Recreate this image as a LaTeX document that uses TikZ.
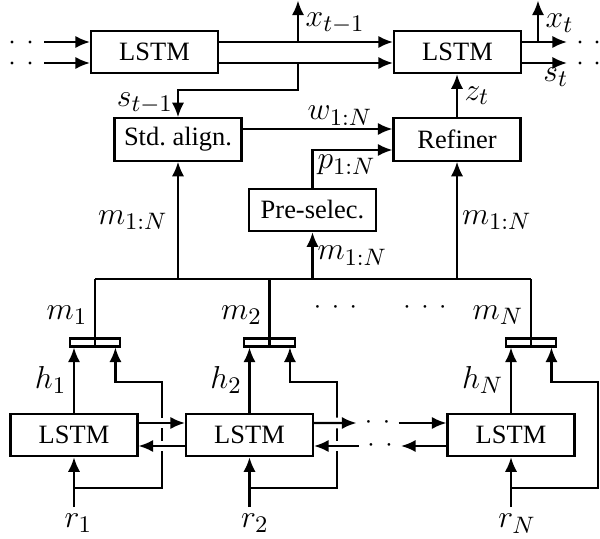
\documentclass[tikz,border=0pt]{standalone}
\usepackage[no-math]{fontspec}
\setmainfont{Liberation Serif}
\usetikzlibrary{arrows.meta,calc}

\tikzset{
  box/.style={draw, thick, minimum width=48pt, minimum height=16pt, inner sep=0pt},
  catbox/.style={draw, thick, minimum width=19.2pt, minimum height=3pt, inner sep=0pt},
  conn/.style={thick, -{Latex[length=5.5pt,width=4.6pt]}},
  wire/.style={thick},
  overgap/.style={preaction={draw=white, line width=4pt, -}},
  lab/.style={font=\fontsize{12.5}{14}\selectfont, inner sep=2.5pt},
  dots/.style={inner xsep=3pt, inner ysep=0pt},
  dotmark/.style={circle, fill, inner sep=0pt, minimum size=1.2pt},
}

\begin{document}
\begin{tikzpicture}[x=1.329mm, y=-1.329mm]
  \useasboundingbox (0,0) rectangle (60,53.9);

  % decoder part
  \node[box] (decPrev) at (15.45,5.2) {LSTM};
  \node[box] (decCur) at (45.75,5.2) {LSTM};
  \node[box] (stdAlign) at (17.8,13.95) {Std.\ align.};
  \node[box] (refiner) at (45.7,13.95) {Refiner};
  \node[box] (preSel) at (31.25,21.0) {Pre-selec.};

  % concatenation of h and r
  \node[catbox] (cat1) at (9.5,34.25) {};
  \node[catbox] (cat2) at (26.95,34.25) {};
  \node[catbox] (catN) at (53.1,34.25) {};

  % encoder part
  \node[box] (enc1) at (7.4,43.5) {LSTM};
  \node[box] (enc2) at (24.95,43.5) {LSTM};
  \node[box] (encN) at (51.1,43.5) {LSTM};
  \node[lab, anchor=north] (r1) at (7.85,50.7) {$r_1$};
  \node[lab, anchor=north] (r2) at (25.5,50.7) {$r_2$};
  \node[lab, anchor=north] (rN) at (51.7,50.7) {$r_N$};

  % dots
  \node[dotmark] (dotL1a) at (1.2,4.2) {};  \node[dotmark] (dotL1b) at (3.0,4.2) {};
  \node[dotmark] (dotL2a) at (1.2,6.3) {};  \node[dotmark] (dotL2b) at (3.0,6.3) {};
  \node[dotmark] (dotR1a) at (58.0,4.2) {}; \node[dotmark] (dotR1b) at (59.7,4.2) {};
  \node[dotmark] (dotR2a) at (58.0,6.3) {}; \node[dotmark] (dotR2b) at (59.7,6.3) {};
  \node[dots] (dotsA) at (37.75,42.3) {$\cdot$\hspace{4pt}$\cdot$};
  \node[dots] (dotsB) at (38.0,44.6) {$\cdot$\hspace{4pt}$\cdot$};
  \node[dots] (dotsM1) at (33.55,30.8) {$\cdot$\hspace{4pt}$\cdot$\hspace{4pt}$\cdot$};
  \node[dots] (dotsM2) at (42.5,30.8) {$\cdot$\hspace{4pt}$\cdot$\hspace{4pt}$\cdot$};

  % helper points
  \coordinate (inX) at (4.4,4.2);
  \coordinate (inS) at (4.4,6.3);
  \coordinate (splitX) at (29.8,4.2);
  \coordinate (splitS) at (29.8,6.3);
  \coordinate (outX) at (29.8,0.05);
  \coordinate (outXt) at (56.7,4.2);
  \coordinate (outSt) at (56.7,6.3);
  \coordinate (tapXt) at (53.8,4.2);
  \coordinate (topXt) at (53.8,0.05);
  \coordinate (bus) at (0,27.9);
  \coordinate (fbY) at (0,48.8);
  \coordinate (fb1) at (16.2,38.2);
  \coordinate (fb2) at (33.7,38.2);
  \coordinate (fbN) at (59.8,38.2);

  % decoder connections
  \draw[conn] (inX) -- (decPrev.west |- inX);
  \draw[conn] (inS) -- (decPrev.west |- inS);
  \draw[conn] (decPrev.east |- inX) -- (decCur.west |- inX);
  \draw[conn] (decPrev.east |- inS) -- (decCur.west |- inS);
  \draw[conn] (splitX) -- node[lab, right, pos=0.45] {$x_{t-1}$} (outX);
  \draw[conn] (splitS) -- ++(0,2.7) -| node[lab, left, pos=0.75, inner sep=1.5pt] {$s_{t-1}$} (stdAlign.north);
  \draw[conn] (decCur.east |- outXt) -- (outXt);
  \draw[conn] (decCur.east |- outSt) -- node[lab, below, pos=0.75, inner sep=1.5pt] {$s_t$} (outSt);
  \draw[conn] (tapXt) -- node[lab, right, pos=0.45] {$x_t$} (topXt);
  \draw[conn] ($(stdAlign.east)+(0,-1.05)$) -- node[lab, above, pos=0.65, inner sep=1pt] {$w_{1:N}$} ($(refiner.west)+(0,-1.05)$);
  \draw[conn] (preSel.north) |- node[lab, below right, pos=0.5, inner sep=1.5pt] {$p_{1:N}$} ($(refiner.west)+(0,1.05)$);
  \draw[conn] (refiner.north) -- node[lab, right] {$z_t$} (refiner.north |- decCur.south);

  % memory bus
  \draw[wire] (cat1.south |- bus) -- (catN.south |- bus);
  \draw[conn] (stdAlign.south |- bus) -- node[lab, left=1pt] {$m_{1:N}$} (stdAlign.south);
  \draw[conn] (preSel.south |- bus) -- node[lab, right, inner sep=1.5pt] {$m_{1:N}$} (preSel.south);
  \draw[conn] (refiner.south |- bus) -- node[lab, right, inner sep=1.5pt] {$m_{1:N}$} (refiner.south);
  \draw[wire] (cat1.south) -- node[lab, left, pos=0.47] {$m_1$} (cat1.south |- bus);
  \draw[wire] (cat2.south) -- node[lab, left, pos=0.47] {$m_2$} (cat2.south |- bus);
  \draw[wire] (catN.south) -- node[lab, left, pos=0.47] {$m_N$} (catN.south |- bus);

  % encoder inputs and hidden states
  \draw[conn] (enc1.south |- r1.north) -- (enc1.south);
  \draw[conn] (enc2.south |- r2.north) -- (enc2.south);
  \draw[conn] (encN.south |- rN.north) -- (encN.south);
  \draw[conn] (enc1.north) -- node[lab, left] {$h_1$} (enc1.north |- cat1.south);
  \draw[conn] (enc2.north) -- node[lab, left] {$h_2$} (enc2.north |- cat2.south);
  \draw[conn] (encN.north) -- node[lab, left] {$h_N$} (encN.north |- catN.south);
  \draw[conn] (enc1.south |- fbY) -| (fb1) -| ($(cat1.south east)+(-0.6,0)$);
  \draw[conn] (enc2.south |- fbY) -| (fb2) -| ($(cat2.south east)+(-0.6,0)$);
  \draw[conn] (encN.south |- fbY) -| (fbN) -| ($(catN.south east)+(-0.6,0)$);

  % bidirectional links
  \draw[conn, overgap] ($(enc1.east)+(0,-1.2)$) -- ($(enc2.west)+(0,-1.2)$);
  \draw[conn, overgap] ($(enc2.west)+(0,1.1)$) -- ($(enc1.east)+(0,1.1)$);
  \draw[conn, overgap] ($(enc2.east)+(0,-1.2)$) -- (dotsA);
  \draw[conn] (dotsA) -- (encN.west |- dotsA);
  \draw[conn] (encN.west |- dotsB) -- (dotsB);
  \draw[conn, overgap] (dotsB) -- (enc2.east |- dotsB);
\end{tikzpicture}
\end{document}
